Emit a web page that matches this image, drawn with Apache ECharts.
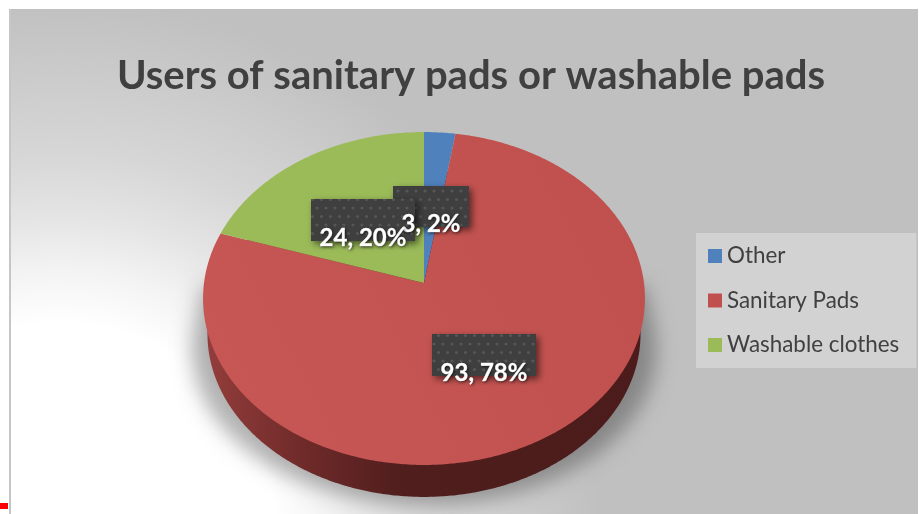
<!DOCTYPE html>
<html>
<head>
<meta charset="utf-8">
<style>
  html, body { margin: 0; padding: 0; background: #fff; overflow: hidden; }
  #chart { width: 919px; height: 514px; position: relative; }
  #tick { position: absolute; left: 0; top: 503px; width: 8px; height: 6px; background: #f00; }
</style>
<script src="https://cdn.jsdelivr.net/npm/echarts@6/dist/echarts.min.js"></script>
</head>
<body>
<div id="chart"></div>
<div id="tick"></div>
<script>
// Survey answers
const categories = ['Other', 'Sanitary Pads', 'Washable clothes'];
const counts = [3, 93, 24];
const percentLabels = ['2%', '78%', '20%'];
const sliceColors = ['#4f81bd', '#c0504d', '#9bbb59'];
const chartTitle = 'Users of sanitary pads or washable pads';

// Tilted disc: a circle under a perspective projection around the apex
const APEX = { x: 424, y: 283 };
const DISC = { a: 220, b: 165, c: -0.0931 };
const RIM = { scale: 0.98, fromY: 298.5, toY: 333.8 };
const FONT = 'Lato, Carlito, "Noto Sans", sans-serif';

function project(theta) {
  const u = Math.sin(theta), v = -Math.cos(theta);
  const d = 1 + DISC.c * v;
  return [APEX.x + DISC.a * u / d, APEX.y + DISC.b * v / d];
}

function arcPoints(from, to) {
  const pts = [];
  const n = Math.max(2, Math.ceil(Math.abs(to - from) / 0.01));
  for (let i = 0; i <= n; i++) pts.push(project(from + (to - from) * i / n));
  return pts;
}

const total = counts.reduce((s, v) => s + v, 0);
const startAngles = counts.map((_, i) =>
  counts.slice(0, i).reduce((s, v) => s + v, 0) / total * 2 * Math.PI);

// Dotted tile for the data label boxes
function dotTile() {
  const cv = document.createElement('canvas');
  cv.width = 9; cv.height = 17;
  const g = cv.getContext('2d');
  g.fillStyle = '#3f3f3f';
  g.fillRect(0, 0, 9, 17);
  g.fillStyle = 'rgba(255,255,255,0.12)';
  [[2, 4], [6.5, 12.5]].forEach(([x, y]) => {
    g.beginPath(); g.arc(x, y, 1.6, 0, 7); g.fill();
  });
  return cv;
}
const tile = dotTile();

// Data label boxes and the text sitting on their lower edge
const labelBoxes = [
  { x: 393, y: 186, w: 76, h: 41, tx: 431, ty: 224 },
  { x: 432, y: 334, w: 104, h: 42, tx: 484, ty: 373 },
  { x: 311, y: 199, w: 104, h: 42, tx: 363, ty: 238 }
];

// Soft ground shadow, flaring out from the widest points of the disc.
// The shape sits off canvas so that only its blurred shadow lands on the chart.
function groundShadow() {
  const off = 3000;
  const pts = [[645, 286]];
  for (let i = 0; i <= 120; i++) {
    const t = -0.1 + (Math.PI + 0.2) * i / 120;
    pts.push([424 + 232 * Math.cos(t), 350 + 155 * Math.sin(t)]);
  }
  pts.push([203, 286]);
  return {
    type: 'polygon', z2: 0, silent: true,
    shape: { points: pts.map(p => [p[0] - off, p[1]]) },
    style: {
      fill: '#000',
      shadowBlur: 20, shadowColor: 'rgba(0,0,0,0.3)', shadowOffsetX: off, shadowOffsetY: 0
    }
  };
}

function renderSlice(index, params, api) {
  const value = api.value(0);
  const from = startAngles[index];
  const to = from + value / total * 2 * Math.PI;
  const isLargest = value === Math.max.apply(null, counts);
  const children = [];

  if (isLargest) {
    children.push(groundShadow());
    // Wall under the disc, visible where the lower rim leaves the top face
    const rim = arcPoints(0, 2 * Math.PI).map(p => [
      APEX.x + RIM.scale * (p[0] - APEX.x),
      RIM.toY + RIM.scale * (p[1] - RIM.fromY)
    ]);
    children.push({
      type: 'polygon', z2: 1, silent: true,
      shape: { points: rim },
      style: {
        fill: {
          type: 'linear', x: 203, y: 0, x2: 645, y2: 0, global: true,
          colorStops: [
            { offset: 0, color: '#943e3c' },
            { offset: 0.22, color: '#702b2a' },
            { offset: 0.45, color: '#4f1e1d' },
            { offset: 1, color: '#4b1c1b' }
          ]
        }
      }
    });
  }

  children.push({
    type: 'polygon', z2: 2,
    shape: { points: [[APEX.x, APEX.y]].concat(arcPoints(from, to)) },
    style: {
      fill: isLargest ? {
        type: 'linear', x: 220, y: 420, x2: 640, y2: 200, global: true,
        colorStops: [
          { offset: 0, color: '#c75755' },
          { offset: 1, color: '#c0504d' }
        ]
      } : api.visual('color')
    }
  });

  const box = labelBoxes[index];
  children.push({
    type: 'rect', z2: 10 + index,
    shape: { x: box.x, y: box.y, width: box.w, height: box.h },
    style: {
      fill: { image: tile, repeat: 'repeat' },
      shadowBlur: 7, shadowColor: 'rgba(0,0,0,0.55)', shadowOffsetX: 3, shadowOffsetY: 3
    }
  });
  children.push({
    type: 'text', z2: 20,
    style: {
      x: box.tx, y: box.ty,
      text: value + ', ' + percentLabels[index],
      fill: '#ffffff',
      font: 'bold 24px ' + FONT,
      align: 'center', verticalAlign: 'middle',
      stroke: '#ffffff', lineWidth: 0.4,
      textShadowBlur: 3, textShadowColor: 'rgba(0,0,0,0.55)', textShadowOffsetX: 1, textShadowOffsetY: 1
    }
  });
  return { type: 'group', children };
}

const chart = echarts.init(document.getElementById('chart'), null, { renderer: 'canvas' });
chart.setOption({
  animation: false,
  title: {
    text: chartTitle,
    left: 466, top: 51, textAlign: 'center',
    textStyle: { color: '#404040', fontFamily: FONT, fontWeight: 'bold', fontSize: 40 }
  },
  legend: {
    data: categories,
    orient: 'vertical',
    left: 696, top: 233,
    padding: [12, 17, 12, 12],
    backgroundColor: '#d2d2d2',
    itemWidth: 14, itemHeight: 14, itemGap: 22.5,
    icon: 'rect',
    selectedMode: false,
    textStyle: { color: '#404040', fontFamily: FONT, fontSize: 22.4 }
  },
  graphic: [
    {
      type: 'rect', z: -10, silent: true,
      shape: { x: 10, y: 9, width: 908, height: 505 },
      style: {
        fill: {
          type: 'radial', x: 60, y: 540, r: 540, global: true,
          colorStops: [
            { offset: 0, color: '#ffffff' },
            { offset: 0.40, color: '#ffffff' },
            { offset: 0.50, color: '#f3f3f3' },
            { offset: 0.60, color: '#e4e4e4' },
            { offset: 0.72, color: '#d6d6d6' },
            { offset: 1, color: '#c0c0c0' }
          ]
        }
      }
    },
    {
      type: 'rect', z: -9, silent: true,
      shape: { x: 9, y: 9, width: 2, height: 505 },
      style: { fill: '#c6c6c6' }
    }
  ],
  series: categories.map((name, i) => ({
    type: 'custom',
    name,
    coordinateSystem: 'none',
    z: 2,
    itemStyle: { color: sliceColors[i] },
    data: [[counts[i]]],
    renderItem: (params, api) => renderSlice(i, params, api)
  }))
});
</script>
</body>
</html>
